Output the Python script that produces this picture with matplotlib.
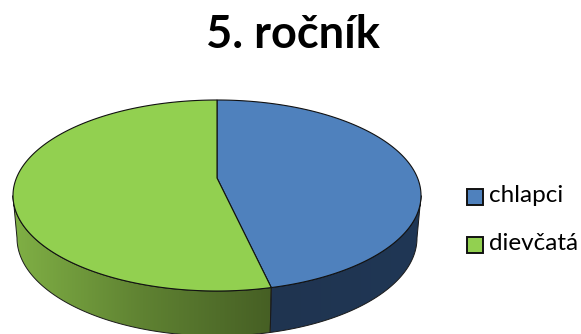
import numpy as np
import matplotlib
matplotlib.use("Agg")
import matplotlib.pyplot as plt
from matplotlib.colors import LinearSegmentedColormap
from matplotlib.patches import Polygon, Rectangle

title = "5. ročník"
categories = ["chlapci", "dievčatá"]
values = [16, 19]
top_colors = ["#4f81bd", "#92d050"]

W, H = 581, 334
fig = plt.figure(figsize=(W / 100, H / 100), dpi=100)
ax = fig.add_axes([0, 0, 1, 1])
ax.set_xlim(0, W)
ax.set_ylim(H, 0)
ax.axis("off")

# Tilted disc: upper face ellipse and the slightly narrower ellipse below it.
# Perspective puts the slice apex above the centre of the ellipse.
cx, cy, rx, ry = 217, 195.5, 204, 95.5
apex = (217, 178)
bx, by, brx, bry = 217, 238, 200, 98


def upper(a):
    return np.column_stack([cx + rx * np.sin(a), cy - ry * np.cos(a)])


def lower(a):
    return np.column_stack([bx + brx * np.sin(a), by - bry * np.cos(a)])


# Slice boundaries, clockwise from twelve o'clock
fractions = np.cumsum([0] + values) / sum(values)
angles = 2 * np.pi * fractions
split = angles[1]

# Side wall, front half only
side_maps = [
    LinearSegmentedColormap.from_list("blue_side", ["#1f3450", "#203755"]),
    LinearSegmentedColormap.from_list("green_side", ["#465f24", "#5f8232", "#80b045"]),
]
spans = [(np.pi / 2, split), (split, 3 * np.pi / 2)]
extents = [(cx + rx * np.sin(split), 421), (13, cx + rx * np.sin(split))]
gradients = [np.linspace(0, 1, 256)[None, :], np.linspace(1, 0, 256)[None, :]]

for (a0, a1), cmap, (x0, x1), grad in zip(spans, side_maps, extents, gradients):
    a = np.linspace(a0, a1, 200)
    outline = np.vstack([upper(a), lower(a)[::-1]])
    poly = Polygon(outline, closed=True, facecolor="none", edgecolor="none")
    ax.add_patch(poly)
    img = ax.imshow(grad, cmap=cmap, extent=(x0, x1, H, 90), aspect="auto",
                    zorder=2, vmin=0, vmax=1)
    img.set_clip_path(poly)
    ax.add_patch(Polygon(outline, closed=True, facecolor="none",
                         edgecolor="#1a1a1a", linewidth=0.7, zorder=3))

ax.set_xlim(0, W)
ax.set_ylim(H, 0)

# Upper face slices
for i, color in enumerate(top_colors):
    a = np.linspace(angles[i], angles[i + 1], 300)
    pts = np.vstack([apex, upper(a)])
    ax.add_patch(Polygon(pts, closed=True, facecolor=color,
                         edgecolor="#111111", linewidth=0.8, zorder=4))

ax.text(293, 35, title, ha="center", va="center", fontsize=32.5,
        fontweight="bold", family="Lato", color="black")

# Legend
for y, label, color in zip([197, 244.5], categories, top_colors):
    ax.add_patch(Rectangle((467, y - 8), 16, 16, facecolor=color,
                           edgecolor="#111111", linewidth=1.4, zorder=4))
    ax.text(489, y - 1, label, ha="left", va="center", fontsize=17.5,
            family="Lato", color="black")

fig.savefig("out.png", dpi=100)
